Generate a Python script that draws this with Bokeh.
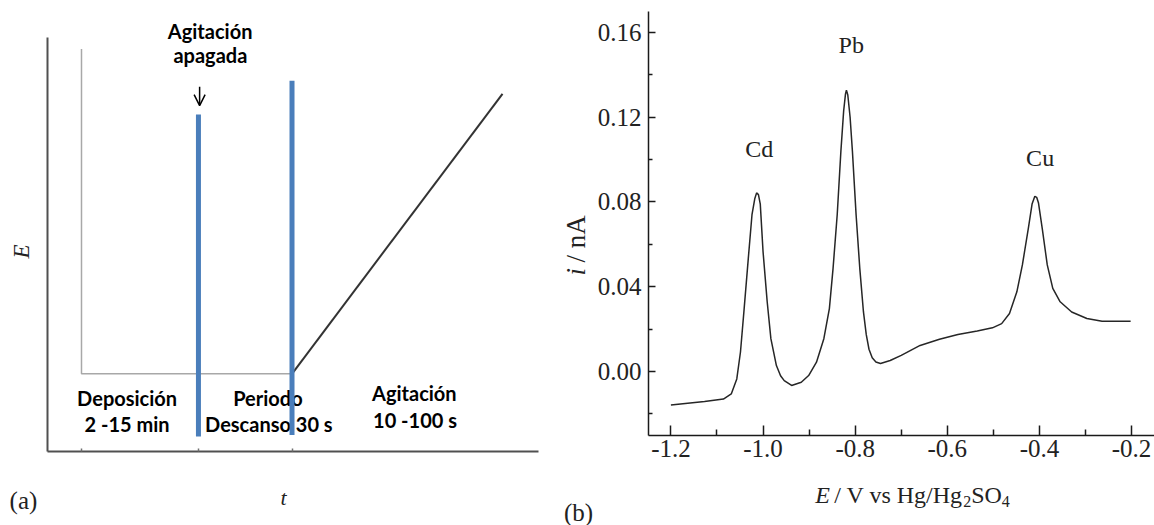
import math
from bokeh.plotting import figure
from bokeh.layouts import row
from bokeh.models import Range1d, FixedTicker, Label, Arrow, OpenHead
from bokeh.core.properties import value
from bokeh.embed import file_html
from bokeh.resources import INLINE

# ---------------- Panel (a): schematic potential waveform ----------------
wave_t = [0, 0, 9]            # potential step then deposition hold
wave_E = [11.6, 0, 0]
ramp_t = [9, 18]              # stripping scan
ramp_E = [0, 10]
event_t = [5, 9]              # stirring off, end of rest period
event_E_top = [9.26, 10.47]
event_E_bottom = [-2.24, -2.19]
stage_ticks = [0, 5, 9]

# ---------------- Panel (b): stripping voltammogram ----------------
E_V = [-1.200, -1.127, -1.086, -1.069, -1.057, -1.049, -1.041, -1.032, -1.024, -1.018,
       -1.014, -1.010, -1.006, -1.000, -0.991, -0.983, -0.971, -0.962, -0.954, -0.938,
       -0.917, -0.901, -0.884, -0.868, -0.856, -0.848, -0.839, -0.831, -0.825, -0.821,
       -0.819, -0.816, -0.811, -0.806, -0.798, -0.790, -0.782, -0.776, -0.770, -0.763,
       -0.755, -0.745, -0.724, -0.700, -0.659, -0.617, -0.577, -0.535, -0.502, -0.482,
       -0.465, -0.449, -0.437, -0.424, -0.416, -0.410, -0.406, -0.402, -0.394, -0.383,
       -0.371, -0.355, -0.330, -0.297, -0.264, -0.231, -0.202]
i_nA = [-0.0158, -0.0142, -0.0130, -0.0106, -0.0035, 0.0092, 0.0297, 0.0534, 0.0740, 0.0815,
        0.0843, 0.0835, 0.0790, 0.0566, 0.0329, 0.0155, 0.0028, -0.0020, -0.0043, -0.0066,
        -0.0051, -0.0019, 0.0044, 0.0155, 0.0297, 0.0487, 0.0740, 0.1040, 0.1230, 0.1310,
        0.1328, 0.1305, 0.1200, 0.1040, 0.0740, 0.0487, 0.0281, 0.0175, 0.0105, 0.0065,
        0.0045, 0.0038, 0.0052, 0.0076, 0.0123, 0.0152, 0.0175, 0.0191, 0.0206, 0.0226,
        0.0274, 0.0376, 0.0503, 0.0677, 0.0790, 0.0827, 0.0822, 0.0795, 0.0677, 0.0503,
        0.0392, 0.0329, 0.0281, 0.0250, 0.0237, 0.0237, 0.0237]
peak_names = ["Cd", "Pb", "Cu"]
x_ticks = [-1.2, -1.0, -0.8, -0.6, -0.4, -0.2]
x_tick_labels = ["-1.2", "-1.0", "-0.8", "-0.6", "-0.4", "-0.2"]
x_minor = [-1.1, -0.9, -0.7, -0.5, -0.3]
y_ticks = [0.0, 0.04, 0.08, 0.12, 0.16]
y_tick_labels = ["0.00", "0.04", "0.08", "0.12", "0.16"]
y_minor = [-0.02, 0.02, 0.06, 0.10, 0.14]

SERIF = "Liberation Serif"
SANS_B = "Lato"

# ======================= Panel (a) =======================
# axes box: t in [-1.4536, 19.538], E in [-2.775, 12.01]
pa = figure(width=560, height=525, output_backend="svg", toolbar_location=None,
            x_range=Range1d(-3.463, 20.479), y_range=Range1d(-5.418, 13.332), min_border=0)
pa.outline_line_color = None
pa.grid.visible = False
pa.background_fill_color = "white"
pa.border_fill_color = "white"
for ax in (pa.xaxis, pa.yaxis):
    ax.axis_line_color = "#505050"
    ax.axis_line_width = 2
    ax.major_tick_line_color = None
pa.yaxis.fixed_location = -1.4536
pa.yaxis.bounds = (-2.775, 12.01)
pa.yaxis.ticker = FixedTicker(ticks=[], minor_ticks=[])
pa.xaxis.fixed_location = -2.775
pa.xaxis.bounds = (-1.4536, 19.538)
pa.xaxis.ticker = FixedTicker(ticks=[], minor_ticks=stage_ticks)
pa.xaxis.minor_tick_in = 3
pa.xaxis.minor_tick_out = 0
pa.xaxis.minor_tick_line_color = "#707070"
pa.xaxis.minor_tick_line_width = 1.5

pa.line(wave_t, wave_E, line_color="#a8a8a8", line_width=1.5)
pa.line(ramp_t, ramp_E, line_color="#333333", line_width=2)

txt_kw = dict(text_font=value(SANS_B), text_font_style="bold", text_font_size="20px",
              text_color="black", text_align="center", text_baseline="alphabetic")
pa.text(x=[1.95, 1.95], y=[-0.87, -1.80], text=["Deposición", "2 -15 min"], **txt_kw)
pa.text(x=[7.97, 8.01], y=[-0.87, -1.80], text=["Periodo", "Descanso 30 s"], **txt_kw)
pa.text(x=[14.23, 14.26], y=[-0.69, -1.64], text=["Agitación", "10 -100 s"], **txt_kw)
pa.text(x=[5.5, 5.51], y=[12.23, 11.39], text=["Agitación", "apagada"], **txt_kw)

pa.segment(x0=event_t, y0=event_E_bottom, x1=event_t, y1=event_E_top,
           line_color="#4a7ebb", line_width=5)

pa.add_layout(Arrow(end=OpenHead(size=11, line_width=1.5, line_color="black"),
                    x_start=5.05, y_start=10.25, x_end=5.05, y_end=9.58,
                    line_width=1.5, line_color="black"))
pa.add_layout(Label(x=-2.55, y=4.37, text="E", angle=math.pi / 2, text_font=SERIF,
                    text_font_style="italic", text_font_size="23px", text_color="#222222",
                    text_align="center", text_baseline="middle"))
pa.add_layout(Label(x=8.64, y=-4.42, text="t", text_font=SERIF, text_font_style="italic",
                    text_font_size="22px", text_color="#222222",
                    text_align="center", text_baseline="middle"))
pa.add_layout(Label(x=-2.48, y=-4.51, text="(a)", text_font=SERIF, text_font_size="25px",
                    text_color="#222222", text_align="center", text_baseline="middle"))

# ======================= Panel (b) =======================
# axes box: E in [-1.2488, -0.1502], i in [-0.0302, 0.1697]
pb = figure(width=594, height=525, output_backend="svg", toolbar_location=None,
            x_range=Range1d(-1.4397, -0.1502), y_range=Range1d(-0.07268, 0.1751), min_border=0)
pb.outline_line_color = None
pb.grid.visible = False
for ax in (pb.xaxis, pb.yaxis):
    ax.axis_line_color = "#1a1a1a"
    ax.axis_line_width = 1.5
    ax.major_tick_line_color = "#1a1a1a"
    ax.minor_tick_line_color = "#1a1a1a"
    ax.major_tick_line_width = 1.5
    ax.minor_tick_line_width = 1.5
    ax.major_tick_out = 0
    ax.minor_tick_out = 0
    ax.major_label_text_font = SERIF
    ax.major_label_text_font_size = "25px"
    ax.major_label_text_color = "#222222"
pb.xaxis.fixed_location = -0.0302
pb.xaxis.bounds = (-1.2488, -0.1502)
pb.yaxis.fixed_location = -1.2488
pb.yaxis.bounds = (-0.0302, 0.1697)
pb.xaxis.ticker = FixedTicker(ticks=x_ticks, minor_ticks=x_minor)
pb.xaxis.major_label_overrides = dict(zip(x_ticks, x_tick_labels))
pb.xaxis.major_tick_in = 10
pb.xaxis.minor_tick_in = 6
pb.xaxis.major_label_standoff = 5
pb.yaxis.ticker = FixedTicker(ticks=y_ticks, minor_ticks=y_minor)
pb.yaxis.major_label_overrides = dict(zip(y_ticks, y_tick_labels))
pb.yaxis.major_tick_in = 7
pb.yaxis.minor_tick_in = 4
pb.yaxis.major_label_standoff = 7

pb.line(E_V, i_nA, line_color="#262626", line_width=1.5)
pb.text(x=[-1.008, -0.8085, -0.3985], y=[0.1052, 0.1541, 0.1006], text=peak_names,
        text_font=value(SERIF), text_font_size="24px", text_color="#222222",
        text_align="center", text_baseline="alphabetic")

lab = dict(text_font=SERIF, text_color="#222222", text_baseline="alphabetic", text_align="left")
# y-axis title: i / nA
pb.add_layout(Label(x=-1.4065, y=0.0453, text="i", angle=math.pi / 2, text_font_style="italic",
                    text_font_size="27px", **lab))
pb.add_layout(Label(x=-1.4065, y=0.0514, text="/ nA", angle=math.pi / 2,
                    text_font_size="27px", **lab))
# x-axis title: E / V vs Hg/Hg2SO4
pb.add_layout(Label(x=-0.8866, y=-0.0585, text="E", text_font_style="italic",
                    text_font_size="24px", **lab))
pb.add_layout(Label(x=-0.8453, y=-0.0585, text="/ V vs Hg/Hg", text_font_size="24px", **lab))
pb.add_layout(Label(x=-0.5655, y=-0.0613, text="2", text_font_size="16px", **lab))
pb.add_layout(Label(x=-0.5482, y=-0.0585, text="SO", text_font_size="24px", **lab))
pb.add_layout(Label(x=-0.4816, y=-0.0613, text="4", text_font_size="16px", **lab))
pb.add_layout(Label(x=-1.4007, y=-0.0665, text="(b)", text_font_size="25px",
                    text_font=SERIF, text_color="#222222", text_align="center",
                    text_baseline="middle"))

layout = row(pa, pb)
open("out.html", "w").write(file_html(layout, INLINE))
